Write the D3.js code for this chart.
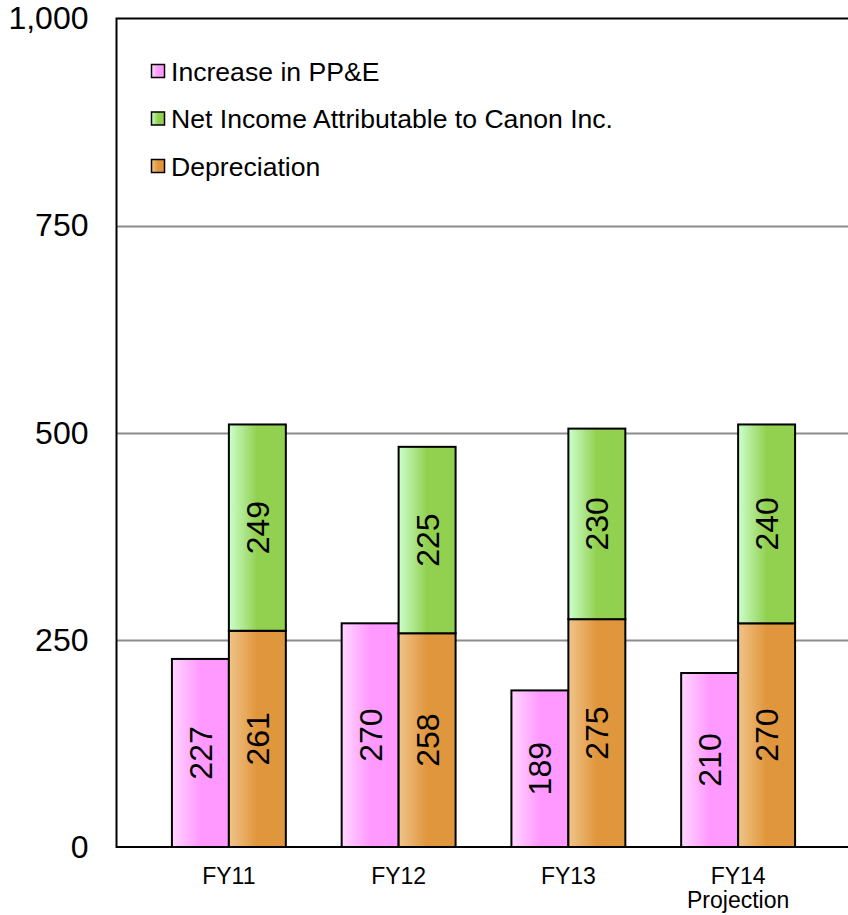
<!DOCTYPE html>
<html>
<head>
<meta charset="utf-8">
<script src="https://cdn.jsdelivr.net/npm/d3@7/dist/d3.min.js"></script>
<style>
  html, body { margin: 0; padding: 0; background: #fff; }
  svg { display: block; }
  text { font-family: "Liberation Sans", Arial, sans-serif; fill: #000; }
</style>
</head>
<body>
<svg id="chart" width="848" height="915"></svg>
<script>
// Fiscal years shown on the x axis (second line for the projection)
const categories = ["FY11", "FY12", "FY13", "FY14"];
const categorySubLabels = ["", "", "", "Projection"];

// Values (billions of yen)
const increasePPE = [227, 270, 189, 210];
const depreciation = [261, 258, 275, 270];
const netIncome = [249, 225, 230, 240];

// Y-axis ticks
const yTicks = [0, 250, 500, 750, 1000];
const yTickLabels = ["0", "250", "500", "750", "1,000"];

const seriesNames = [
  "Increase in PP&E",
  "Net Income Attributable to Canon Inc.",
  "Depreciation"
];

const svg = d3.select("#chart");
const plot = { left: 116.5, top: 18.5, bottom: 847 };

const y = d3.scaleLinear().domain([0, 1000]).range([plot.bottom, plot.top]);
const x = d3.scaleBand().domain(categories).range([144, 823]).padding(0);
const inner = d3.scaleBand().domain(["ppe", "stack"])
  .range([0, x.bandwidth()]).paddingOuter(0.49).paddingInner(0);

// Horizontal gradients: light on the left, solid colour from the middle
const defs = svg.append("defs");
function gradient(id, light, solid) {
  const g = defs.append("linearGradient").attr("id", id)
    .attr("x1", "0%").attr("x2", "100%").attr("y1", "0%").attr("y2", "0%");
  g.append("stop").attr("offset", "0%").attr("stop-color", light);
  g.append("stop").attr("offset", "50%").attr("stop-color", solid);
  g.append("stop").attr("offset", "100%").attr("stop-color", solid);
}
gradient("gPink", "#ffd6ff", "#ff99ff");
gradient("gGreen", "#ccffcc", "#92d050");
gradient("gOrange", "#f0c48a", "#e0963c");

// Gridlines
svg.append("g").selectAll("line")
  .data(yTicks.filter(d => d > 0 && d < 1000))
  .join("line")
  .attr("x1", plot.left).attr("x2", 848)
  .attr("y1", d => Math.round(y(d)) + 0.5).attr("y2", d => Math.round(y(d)) + 0.5)
  .attr("stroke", "#8c8c8c").attr("stroke-width", 2);

// Bars
const bars = svg.append("g");
categories.forEach((c, i) => {
  const x0 = x(c);
  // Increase in PP&E
  bars.append("rect")
    .attr("x", x0 + inner("ppe")).attr("width", inner.bandwidth())
    .attr("y", y(increasePPE[i])).attr("height", y(0) - y(increasePPE[i]))
    .attr("fill", "url(#gPink)").attr("stroke", "#000").attr("stroke-width", 2);
  // Depreciation (bottom of stack)
  bars.append("rect")
    .attr("x", x0 + inner("stack")).attr("width", inner.bandwidth())
    .attr("y", y(depreciation[i])).attr("height", y(0) - y(depreciation[i]))
    .attr("fill", "url(#gOrange)").attr("stroke", "#000").attr("stroke-width", 2);
  // Net income (top of stack)
  const top = depreciation[i] + netIncome[i];
  bars.append("rect")
    .attr("x", x0 + inner("stack")).attr("width", inner.bandwidth())
    .attr("y", y(top)).attr("height", y(depreciation[i]) - y(top))
    .attr("fill", "url(#gGreen)").attr("stroke", "#000").attr("stroke-width", 2);
});

// Value labels, rotated inside the bars
const labels = svg.append("g").attr("font-size", 32);
function valueLabel(cx, cy, v) {
  labels.append("text")
    .attr("transform", `translate(${cx},${cy}) rotate(-90)`)
    .attr("text-anchor", "middle").attr("dy", "0.36em")
    .text(v);
}
categories.forEach((c, i) => {
  const cx1 = x(c) + inner("ppe") + inner.bandwidth() / 2;
  const cx2 = x(c) + inner("stack") + inner.bandwidth() / 2;
  valueLabel(cx1, (y(0) + y(increasePPE[i])) / 2, increasePPE[i]);
  valueLabel(cx2, (y(0) + y(depreciation[i])) / 2, depreciation[i]);
  valueLabel(cx2, (y(depreciation[i]) + y(depreciation[i] + netIncome[i])) / 2, netIncome[i]);
});

// Frame (top, left, bottom)
svg.append("path")
  .attr("d", `M848,${plot.top} H${plot.left} V${plot.bottom} H848`)
  .attr("fill", "none").attr("stroke", "#000").attr("stroke-width", 2);

// Y axis labels
const yAxis = d3.axisLeft(y).tickValues(yTicks)
  .tickFormat((d, i) => yTickLabels[i]).tickSize(0).tickPadding(28);
const yg = svg.append("g").attr("transform", `translate(${plot.left},0)`).call(yAxis);
yg.select(".domain").remove();
yg.selectAll("text").attr("font-size", 32)
  .attr("font-family", "'Liberation Sans', Arial, sans-serif").attr("fill", "#000");

// X axis labels
const xg = svg.append("g").attr("font-size", 23);
categories.forEach((c, i) => {
  const cx = x(c) + x.bandwidth() / 2;
  xg.append("text").attr("x", cx).attr("y", 884).attr("text-anchor", "middle").text(c);
  if (categorySubLabels[i]) {
    xg.append("text").attr("x", cx).attr("y", 908).attr("text-anchor", "middle").text(categorySubLabels[i]);
  }
});

// Legend
const legendFills = ["url(#gPink)", "url(#gGreen)", "url(#gOrange)"];
const legend = svg.append("g");
seriesNames.forEach((name, i) => {
  const cy = 71 + i * 47.5;
  legend.append("rect")
    .attr("x", 151.5).attr("y", cy - 6.5).attr("width", 13).attr("height", 13)
    .attr("fill", legendFills[i]).attr("stroke", "#000").attr("stroke-width", 1.5);
  legend.append("text")
    .attr("x", 171).attr("y", cy).attr("dy", "0.36em")
    .attr("font-size", 26.6).text(name);
});
</script>
</body>
</html>
